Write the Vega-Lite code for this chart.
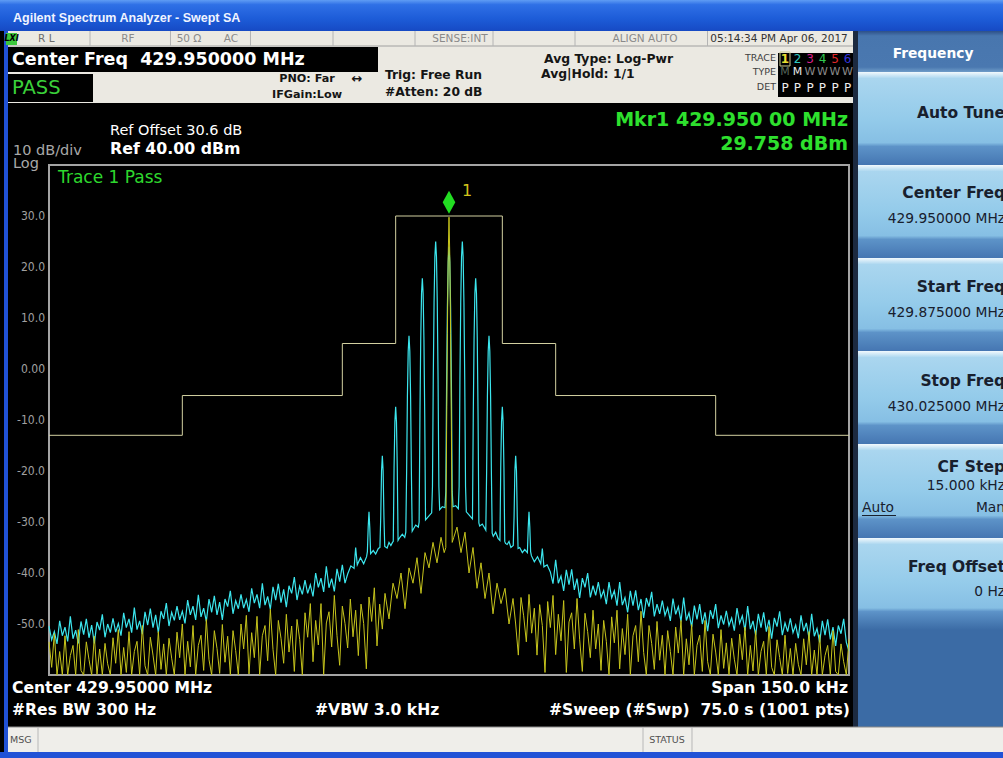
{
  "$schema": "https://vega.github.io/schema/vega-lite/v6.json",
  "width": 800,
  "height": 510,
  "autosize": {"type": "none"},
  "padding": {"left": 49, "top": 165, "right": 154, "bottom": 83},
  "background": "#000000",
  "config": {
    "view": {"stroke": "#a4a4a4", "strokeWidth": 2},
    "text": {"font": "DejaVu Sans", "baseline": "middle", "align": "left"}
  },
  "data": {"values": [{}]},
  "datasets": {
    "cyan": [
      {"f":-75,"d":-50.4},{"f":-74.5,"d":-53.1},{"f":-74,"d":-51.5},{"f":-73.5,"d":-53.9},{"f":-73,"d":-49.4},{"f":-72.5,"d":-52.3},{"f":-72,"d":-50.6},{"f":-71.5,"d":-53.4},{"f":-71,"d":-48.5},{"f":-70.5,"d":-52.9},{"f":-70,"d":-51.2},{"f":-69.5,"d":-53.8},{"f":-69,"d":-49.5},{"f":-68.5,"d":-52.1},{"f":-68,"d":-49.0},{"f":-67.5,"d":-52.7},{"f":-67,"d":-50.2},{"f":-66.5,"d":-53.8},{"f":-66,"d":-49.6},{"f":-65.5,"d":-51.2},{"f":-65,"d":-48.1},{"f":-64.5,"d":-52.6},{"f":-64,"d":-50.0},{"f":-63.5,"d":-51.7},{"f":-63,"d":-48.9},{"f":-62.5,"d":-51.6},{"f":-62,"d":-49.9},{"f":-61.5,"d":-52.3},{"f":-61,"d":-47.8},{"f":-60.5,"d":-50.7},{"f":-60,"d":-49.0},{"f":-59.5,"d":-51.7},{"f":-59,"d":-46.8},{"f":-58.5,"d":-51.1},{"f":-58,"d":-49.4},{"f":-57.5,"d":-52.0},{"f":-57,"d":-47.6},{"f":-56.5,"d":-50.2},{"f":-56,"d":-47.0},{"f":-55.5,"d":-50.7},{"f":-55,"d":-48.2},{"f":-54.5,"d":-51.7},{"f":-54,"d":-47.5},{"f":-53.5,"d":-49.0},{"f":-53,"d":-45.9},{"f":-52.5,"d":-50.4},{"f":-52,"d":-47.7},{"f":-51.5,"d":-49.3},{"f":-51,"d":-46.5},{"f":-50.5,"d":-49.2},{"f":-50,"d":-47.5},{"f":-49.5,"d":-49.9},{"f":-49,"d":-45.3},{"f":-48.5,"d":-48.2},{"f":-48,"d":-46.5},{"f":-47.5,"d":-49.2},{"f":-47,"d":-44.3},{"f":-46.5,"d":-48.6},{"f":-46,"d":-46.9},{"f":-45.5,"d":-49.5},{"f":-45,"d":-45.1},{"f":-44.5,"d":-47.7},{"f":-44,"d":-44.5},{"f":-43.5,"d":-48.2},{"f":-43,"d":-45.7},{"f":-42.5,"d":-49.2},{"f":-42,"d":-45.1},{"f":-41.5,"d":-46.6},{"f":-41,"d":-43.5},{"f":-40.5,"d":-48.0},{"f":-40,"d":-45.4},{"f":-39.5,"d":-47.0},{"f":-39,"d":-44.2},{"f":-38.5,"d":-46.9},{"f":-38,"d":-45.2},{"f":-37.5,"d":-47.6},{"f":-37,"d":-43.0},{"f":-36.5,"d":-45.9},{"f":-36,"d":-44.2},{"f":-35.5,"d":-46.9},{"f":-35,"d":-42.0},{"f":-34.5,"d":-46.3},{"f":-34,"d":-44.6},{"f":-33.5,"d":-47.1},{"f":-33,"d":-42.7},{"f":-32.5,"d":-45.3},{"f":-32,"d":-42.1},{"f":-31.5,"d":-45.8},{"f":-31,"d":-43.2},{"f":-30.5,"d":-46.7},{"f":-30,"d":-42.5},{"f":-29.5,"d":-44.0},{"f":-29,"d":-40.8},{"f":-28.5,"d":-45.3},{"f":-28,"d":-42.6},{"f":-27.5,"d":-44.2},{"f":-27,"d":-41.4},{"f":-26.5,"d":-44.0},{"f":-26,"d":-42.3},{"f":-25.5,"d":-44.6},{"f":-25,"d":-40.0},{"f":-24.5,"d":-42.8},{"f":-24,"d":-41.0},{"f":-23.5,"d":-43.7},{"f":-23,"d":-38.7},{"f":-22.5,"d":-42.9},{"f":-22,"d":-41.1},{"f":-21.5,"d":-43.6},{"f":-21,"d":-39.2},{"f":-20.5,"d":-41.7},{"f":-20,"d":-38.4},{"f":-19.5,"d":-42.0},
      {"f":-19.0,"d":-40.2},{"f":-18.4,"d":-38.6},{"f":-17.8,"d":-39.1},{"f":-17.5,"d":-35.0},{"f":-17.2,"d":-38.4},{"f":-16.6,"d":-37.0},{"f":-16.0,"d":-38.2},{"f":-15.45,"d":-36.8},{"f":-15.3,"d":-35.8},{"f":-15.15,"d":-31.0},{"f":-15.0,"d":-28.0},{"f":-14.85,"d":-31.2},{"f":-14.7,"d":-36.2},{"f":-14.2,"d":-35.6},{"f":-13.75,"d":-36.3},{"f":-13.25,"d":-35.2},{"f":-12.95,"d":-35.0},{"f":-12.8,"d":-29.0},{"f":-12.65,"d":-20.0},{"f":-12.5,"d":-17.0},{"f":-12.35,"d":-20.0},{"f":-12.2,"d":-29.0},{"f":-12.05,"d":-34.8},{"f":-11.6,"d":-35.1},{"f":-11.25,"d":-34.0},{"f":-10.9,"d":-34.6},{"f":-10.6,"d":-34.0},{"f":-10.45,"d":-33.8},{"f":-10.3,"d":-19.4},{"f":-10.15,"d":-10.4},{"f":-10.0,"d":-7.4},{"f":-9.85,"d":-10.4},{"f":-9.7,"d":-19.4},{"f":-9.55,"d":-33.6},{"f":-9.2,"d":-33.0},{"f":-8.75,"d":-32.4},{"f":-8.3,"d":-33.0},{"f":-8.1,"d":-32.0},{"f":-7.95,"d":-20.5},{"f":-7.8,"d":-5.5},{"f":-7.65,"d":3.5},{"f":-7.5,"d":6.5},{"f":-7.35,"d":3.5},{"f":-7.2,"d":-5.5},{"f":-7.05,"d":-20.5},{"f":-6.9,"d":-31.8},{"f":-6.25,"d":-30.6},{"f":-5.75,"d":-31.0},{"f":-5.6,"d":-30.0},{"f":-5.45,"d":-9.2},{"f":-5.3,"d":5.8},{"f":-5.15,"d":14.8},{"f":-5.0,"d":17.8},{"f":-4.85,"d":14.8},{"f":-4.7,"d":5.8},{"f":-4.55,"d":-9.2},{"f":-4.4,"d":-29.6},{"f":-3.75,"d":-28.8},{"f":-3.25,"d":-28.2},{"f":-3.1,"d":-23.0},{"f":-2.95,"d":-2.0},{"f":-2.8,"d":13.0},{"f":-2.65,"d":22.0},{"f":-2.5,"d":25.0},{"f":-2.35,"d":22.0},{"f":-2.2,"d":13.0},{"f":-2.05,"d":-2.0},{"f":-1.9,"d":-23.0},{"f":-1.75,"d":-27.6},{"f":-1.25,"d":-27.0},{"f":-0.75,"d":-27.2},{"f":-0.6,"d":-24.0},{"f":-0.45,"d":-3.0},{"f":-0.3,"d":12.0},{"f":-0.15,"d":21.0},{"f":0,"d":24.0},
      {"f":0.15,"d":21.0},{"f":0.3,"d":12.0},{"f":0.45,"d":-3.0},{"f":0.6,"d":-24.0},{"f":0.75,"d":-27.0},{"f":1.25,"d":-26.8},{"f":1.75,"d":-27.4},{"f":1.9,"d":-23.0},{"f":2.05,"d":-2.0},{"f":2.2,"d":13.0},{"f":2.35,"d":22.0},{"f":2.5,"d":25.0},{"f":2.65,"d":22.0},{"f":2.8,"d":13.0},{"f":2.95,"d":-2.0},{"f":3.1,"d":-23.0},{"f":3.25,"d":-28.0},{"f":3.75,"d":-28.6},{"f":4.4,"d":-29.4},{"f":4.55,"d":-9.2},{"f":4.7,"d":5.8},{"f":4.85,"d":14.8},{"f":5.0,"d":17.8},{"f":5.15,"d":14.8},{"f":5.3,"d":5.8},{"f":5.45,"d":-9.2},{"f":5.6,"d":-30.2},{"f":5.75,"d":-30.8},{"f":6.25,"d":-30.4},{"f":6.9,"d":-31.6},{"f":7.05,"d":-20.5},{"f":7.2,"d":-5.5},{"f":7.35,"d":3.5},{"f":7.5,"d":6.5},{"f":7.65,"d":3.5},{"f":7.8,"d":-5.5},{"f":7.95,"d":-20.5},{"f":8.1,"d":-32.2},{"f":8.3,"d":-32.8},{"f":8.75,"d":-32.0},{"f":9.2,"d":-33.2},{"f":9.55,"d":-33.6},{"f":9.7,"d":-19.4},{"f":9.85,"d":-10.4},{"f":10.0,"d":-7.4},{"f":10.15,"d":-10.4},{"f":10.3,"d":-19.4},{"f":10.45,"d":-33.8},{"f":10.6,"d":-34.2},{"f":10.9,"d":-34.4},{"f":11.25,"d":-33.8},{"f":11.6,"d":-35.0},{"f":12.05,"d":-34.6},{"f":12.2,"d":-29.0},{"f":12.35,"d":-20.0},{"f":12.5,"d":-17.0},{"f":12.65,"d":-20.0},{"f":12.8,"d":-29.0},{"f":12.95,"d":-35.2},{"f":13.25,"d":-35.0},{"f":13.75,"d":-36.0},{"f":14.2,"d":-35.4},{"f":14.7,"d":-36.0},{"f":14.85,"d":-31.2},{"f":15.0,"d":-28.0},{"f":15.15,"d":-31.0},{"f":15.3,"d":-35.8},{"f":15.45,"d":-36.6},{"f":16.0,"d":-37.8},{"f":16.6,"d":-36.8},{"f":17.2,"d":-38.2},{"f":17.5,"d":-35.2},{"f":17.8,"d":-38.8},{"f":18.4,"d":-38.4},{"f":19.0,"d":-39.8},
      {"f":19.5,"d":-42.1},{"f":20,"d":-37.4},{"f":20.5,"d":-42.0},{"f":21,"d":-40.6},{"f":21.5,"d":-43.5},{"f":22,"d":-39.4},{"f":22.5,"d":-42.3},{"f":23,"d":-39.3},{"f":23.5,"d":-43.3},{"f":24,"d":-41.1},{"f":24.5,"d":-44.9},{"f":25,"d":-41.0},{"f":25.5,"d":-42.8},{"f":26,"d":-40.0},{"f":26.5,"d":-44.8},{"f":27,"d":-42.5},{"f":27.5,"d":-44.4},{"f":28,"d":-41.8},{"f":28.5,"d":-44.8},{"f":29,"d":-43.4},{"f":29.5,"d":-46.1},{"f":30,"d":-41.8},{"f":30.5,"d":-44.9},{"f":31,"d":-43.5},{"f":31.5,"d":-46.4},{"f":32,"d":-41.8},{"f":32.5,"d":-46.3},{"f":33,"d":-44.8},{"f":33.5,"d":-47.7},{"f":34,"d":-43.5},{"f":34.5,"d":-46.4},{"f":35,"d":-43.4},{"f":35.5,"d":-47.3},{"f":36,"d":-45.1},{"f":36.5,"d":-48.8},{"f":37,"d":-44.9},{"f":37.5,"d":-46.6},{"f":38,"d":-43.7},{"f":38.5,"d":-48.5},{"f":39,"d":-46.1},{"f":39.5,"d":-48.0},{"f":40,"d":-45.4},{"f":40.5,"d":-48.3},{"f":41,"d":-46.8},{"f":41.5,"d":-49.4},{"f":42,"d":-45.0},{"f":42.5,"d":-48.1},{"f":43,"d":-46.6},{"f":43.5,"d":-49.5},{"f":44,"d":-44.8},{"f":44.5,"d":-49.3},{"f":45,"d":-47.8},{"f":45.5,"d":-50.6},{"f":46,"d":-46.4},{"f":46.5,"d":-49.1},{"f":47,"d":-46.1},{"f":47.5,"d":-50.0},{"f":48,"d":-47.7},{"f":48.5,"d":-51.4},{"f":49,"d":-47.3},{"f":49.5,"d":-49.0},{"f":50,"d":-46.1},{"f":50.5,"d":-50.8},{"f":51,"d":-48.3},{"f":51.5,"d":-50.1},{"f":52,"d":-47.4},{"f":52.5,"d":-50.3},{"f":53,"d":-48.8},{"f":53.5,"d":-51.3},{"f":54,"d":-46.9},{"f":54.5,"d":-49.9},{"f":55,"d":-48.4},{"f":55.5,"d":-51.3},{"f":56,"d":-46.5},{"f":56.5,"d":-51.0},{"f":57,"d":-49.4},{"f":57.5,"d":-52.2},{"f":58,"d":-48.0},{"f":58.5,"d":-50.7},{"f":59,"d":-47.7},{"f":59.5,"d":-51.5},{"f":60,"d":-49.2},{"f":60.5,"d":-52.9},{"f":61,"d":-48.8},{"f":61.5,"d":-50.5},{"f":62,"d":-47.5},{"f":62.5,"d":-52.2},{"f":63,"d":-49.8},{"f":63.5,"d":-51.5},{"f":64,"d":-48.9},{"f":64.5,"d":-51.7},{"f":65,"d":-50.2},{"f":65.5,"d":-52.8},{"f":66,"d":-48.3},{"f":66.5,"d":-51.4},{"f":67,"d":-49.8},{"f":67.5,"d":-52.7},{"f":68,"d":-48.0},{"f":68.5,"d":-52.4},{"f":69,"d":-50.9},{"f":69.5,"d":-53.6},{"f":70,"d":-49.4},{"f":70.5,"d":-52.2},{"f":71,"d":-49.1},{"f":71.5,"d":-53.0},{"f":72,"d":-50.6},{"f":72.5,"d":-54.3},{"f":73,"d":-50.3},{"f":73.5,"d":-51.9},{"f":74,"d":-49.0},{"f":74.5,"d":-53.6},{"f":75,"d":-55.3}
    ],
    "yellow": [
      {"f":-75,"d":-53.5},{"f":-74.5,"d":-58.5},{"f":-74,"d":-51.9},{"f":-73.5,"d":-60},{"f":-73,"d":-55.4},{"f":-72.5,"d":-60},{"f":-72,"d":-52.3},{"f":-71.5,"d":-60},{"f":-71,"d":-56.2},{"f":-70.5,"d":-54.2},{"f":-70,"d":-60},{"f":-69.5,"d":-51.1},{"f":-69,"d":-59.1},{"f":-68.5,"d":-60},{"f":-68,"d":-53.5},{"f":-67.5,"d":-57.0},{"f":-67,"d":-60},{"f":-66.5,"d":-52.4},{"f":-66,"d":-59.9},{"f":-65.5,"d":-54.9},{"f":-65,"d":-60},{"f":-64.5,"d":-53.8},{"f":-64,"d":-57.8},{"f":-63.5,"d":-60},{"f":-63,"d":-52.7},{"f":-62.5,"d":-57.7},{"f":-62,"d":-51.1},{"f":-61.5,"d":-60},{"f":-61,"d":-54.6},{"f":-60.5,"d":-59.5},{"f":-60,"d":-51.5},{"f":-59.5,"d":-60},{"f":-59,"d":-55.4},{"f":-58.5,"d":-53.4},{"f":-58,"d":-60},{"f":-57.5,"d":-50.3},{"f":-57,"d":-58.2},{"f":-56.5,"d":-60},{"f":-56,"d":-52.6},{"f":-55.5,"d":-56.1},{"f":-55,"d":-60},{"f":-54.5,"d":-51.5},{"f":-54,"d":-58.9},{"f":-53.5,"d":-53.9},{"f":-53,"d":-60},{"f":-52.5,"d":-52.8},{"f":-52,"d":-56.7},{"f":-51.5,"d":-60},{"f":-51,"d":-51.6},{"f":-50.5,"d":-56.6},{"f":-50,"d":-50.0},{"f":-49.5,"d":-60},{"f":-49,"d":-53.4},{"f":-48.5,"d":-58.4},{"f":-48,"d":-50.3},{"f":-47.5,"d":-60},{"f":-47,"d":-54.2},{"f":-46.5,"d":-52.2},{"f":-46,"d":-59.1},{"f":-45.5,"d":-49.1},{"f":-45,"d":-57.0},{"f":-44.5,"d":-60},{"f":-44,"d":-51.3},{"f":-43.5,"d":-54.8},{"f":-43,"d":-59.7},{"f":-42.5,"d":-50.1},{"f":-42,"d":-57.5},{"f":-41.5,"d":-52.4},{"f":-41,"d":-60},{"f":-40.5,"d":-51.3},{"f":-40,"d":-55.2},{"f":-39.5,"d":-60},{"f":-39,"d":-50.0},{"f":-38.5,"d":-54.9},{"f":-38,"d":-48.3},{"f":-37.5,"d":-59.8},{"f":-37,"d":-51.7},{"f":-36.5,"d":-56.6},{"f":-36,"d":-48.5},{"f":-35.5,"d":-60},{"f":-35,"d":-52.3},{"f":-34.5,"d":-50.3},{"f":-34,"d":-57.2},{"f":-33.5,"d":-47.1},{"f":-33,"d":-55.0},{"f":-32.5,"d":-60},{"f":-32,"d":-49.3},{"f":-31.5,"d":-52.8},{"f":-31,"d":-57.7},{"f":-30.5,"d":-48.1},{"f":-30,"d":-55.5},{"f":-29.5,"d":-50.4},{"f":-29,"d":-59.3},{"f":-28.5,"d":-49.1},{"f":-28,"d":-53.0},{"f":-27.5,"d":-60},{"f":-27,"d":-47.8},{"f":-26.5,"d":-52.6},{"f":-26,"d":-46.0},{"f":-25.5,"d":-57.4},{"f":-25,"d":-49.3},{"f":-24.5,"d":-54.1},{"f":-24,"d":-46.0},{"f":-23.5,"d":-59.9},{"f":-23,"d":-49.8},{"f":-22.5,"d":-47.6},{"f":-22,"d":-54.5},{"f":-21.5,"d":-44.4},{"f":-21,"d":-52.3},{"f":-20.5,"d":-58.1},{"f":-20,"d":-46.5},{"f":-19.5,"d":-49.9},{"f":-19,"d":-54.7},{"f":-18.5,"d":-45.1},{"f":-18,"d":-52.5},{"f":-17.5,"d":-47.3},{"f":-17,"d":-56.2},{"f":-16.5,"d":-46.1},{"f":-16,"d":-49.9},{"f":-15.5,"d":-58.8},{"f":-15,"d":-44.7},{"f":-14.5,"d":-49.5},{"f":-14,"d":-42.9},{"f":-13.5,"d":-54.3},{"f":-13,"d":-46.1},{"f":-12.5,"d":-51.0},
      {"f":-12,"d":-44},{"f":-11.25,"d":-49},{"f":-10.5,"d":-42},{"f":-9.75,"d":-45},{"f":-9,"d":-40},{"f":-8.25,"d":-47},{"f":-7.5,"d":-39},{"f":-6.75,"d":-42},{"f":-6,"d":-37},{"f":-5.25,"d":-44},{"f":-4.5,"d":-36},{"f":-3.75,"d":-39},{"f":-3,"d":-34},{"f":-2.25,"d":-38},{"f":-1.5,"d":-33},{"f":-0.9,"d":-36},{"f":-0.6,"d":-35},{"f":-0.45,"d":-12},{"f":-0.3,"d":7},{"f":-0.15,"d":22},{"f":0,"d":29.76},{"f":0.15,"d":22},{"f":0.3,"d":7},{"f":0.45,"d":-12},{"f":0.6,"d":-34},{"f":0.9,"d":-33},{"f":1.5,"d":-31},{"f":2.25,"d":-36},{"f":3,"d":-32},{"f":3.75,"d":-40},{"f":4.5,"d":-35},{"f":5.25,"d":-43},{"f":6,"d":-38},{"f":6.75,"d":-45},{"f":7.5,"d":-40},{"f":8.25,"d":-48},{"f":9,"d":-42},{"f":9.75,"d":-46},{"f":10.5,"d":-43},{"f":11.25,"d":-50},{"f":12,"d":-45},
      {"f":12.5,"d":-50.0},{"f":13,"d":-56.1},{"f":13.5,"d":-44.8},{"f":14,"d":-48.4},{"f":14.5,"d":-53.5},{"f":15,"d":-44.2},{"f":15.5,"d":-51.8},{"f":16,"d":-46.9},{"f":16.5,"d":-56.1},{"f":17,"d":-46.2},{"f":17.5,"d":-50.3},{"f":18,"d":-59.5},{"f":18.5,"d":-45.6},{"f":19,"d":-50.7},{"f":19.5,"d":-44.4},{"f":20,"d":-56.0},{"f":20.5,"d":-48.1},{"f":21,"d":-53.3},{"f":21.5,"d":-45.4},{"f":22,"d":-59.5},{"f":22.5,"d":-49.6},{"f":23,"d":-47.8},{"f":23.5,"d":-54.9},{"f":24,"d":-45.0},{"f":24.5,"d":-53.1},{"f":25,"d":-59.3},{"f":25.5,"d":-47.9},{"f":26,"d":-51.5},{"f":26.5,"d":-56.6},{"f":27,"d":-47.3},{"f":27.5,"d":-54.9},{"f":28,"d":-50.0},{"f":28.5,"d":-59.1},{"f":29,"d":-49.3},{"f":29.5,"d":-53.4},{"f":30,"d":-60},{"f":30.5,"d":-48.6},{"f":31,"d":-53.7},{"f":31.5,"d":-47.3},{"f":32,"d":-58.8},{"f":32.5,"d":-50.9},{"f":33,"d":-56.0},{"f":33.5,"d":-48.1},{"f":34,"d":-60},{"f":34.5,"d":-52.3},{"f":35,"d":-50.3},{"f":35.5,"d":-57.4},{"f":36,"d":-47.5},{"f":36.5,"d":-55.6},{"f":37,"d":-60},{"f":37.5,"d":-50.3},{"f":38,"d":-53.8},{"f":38.5,"d":-58.9},{"f":39,"d":-49.5},{"f":39.5,"d":-57.1},{"f":40,"d":-52.2},{"f":40.5,"d":-60},{"f":41,"d":-51.3},{"f":41.5,"d":-55.4},{"f":42,"d":-60},{"f":42.5,"d":-50.6},{"f":43,"d":-55.7},{"f":43.5,"d":-49.3},{"f":44,"d":-60},{"f":44.5,"d":-52.9},{"f":45,"d":-58.0},{"f":45.5,"d":-50.1},{"f":46,"d":-60},{"f":46.5,"d":-54.2},{"f":47,"d":-52.2},{"f":47.5,"d":-59.3},{"f":48,"d":-49.3},{"f":48.5,"d":-57.4},{"f":49,"d":-60},{"f":49.5,"d":-52.0},{"f":50,"d":-55.5},{"f":50.5,"d":-60},{"f":51,"d":-51.1},{"f":51.5,"d":-58.7},{"f":52,"d":-53.7},{"f":52.5,"d":-60},{"f":53,"d":-52.8},{"f":53.5,"d":-56.9},{"f":54,"d":-60},{"f":54.5,"d":-52.0},{"f":55,"d":-57.0},{"f":55.5,"d":-50.6},{"f":56,"d":-60},{"f":56.5,"d":-54.2},{"f":57,"d":-59.2},{"f":57.5,"d":-51.3},{"f":58,"d":-60},{"f":58.5,"d":-55.4},{"f":59,"d":-53.4},{"f":59.5,"d":-60},{"f":60,"d":-50.5},{"f":60.5,"d":-58.5},{"f":61,"d":-60},{"f":61.5,"d":-53.1},{"f":62,"d":-56.6},{"f":62.5,"d":-60},{"f":63,"d":-52.2},{"f":63.5,"d":-59.7},{"f":64,"d":-54.8},{"f":64.5,"d":-60},{"f":65,"d":-53.8},{"f":65.5,"d":-57.9},{"f":66,"d":-60},{"f":66.5,"d":-52.9},{"f":67,"d":-58.0},{"f":67.5,"d":-51.5},{"f":68,"d":-60},{"f":68.5,"d":-55.1},{"f":69,"d":-60},{"f":69.5,"d":-52.1},{"f":70,"d":-60},{"f":70.5,"d":-56.2},{"f":71,"d":-54.2},{"f":71.5,"d":-60},{"f":72,"d":-51.3},{"f":72.5,"d":-59.3},{"f":73,"d":-60},{"f":73.5,"d":-53.9},{"f":74,"d":-57.4},{"f":74.5,"d":-60},{"f":75,"d":-53.0}
    ],
    "limit": [
      {"f":-75,"d":-13},{"f":-50,"d":-5.2},{"f":-20,"d":5},{"f":-10,"d":30},{"f":10,"d":5},{"f":20,"d":-5.2},{"f":50,"d":-13},{"f":75,"d":-13}
    ],
    "ylabels": [
      {"v":30,"t":"30.0"},{"v":20,"t":"20.0"},{"v":10,"t":"10.0"},{"v":0,"t":"0.00"},{"v":-10,"t":"-10.0"},{"v":-20,"t":"-20.0"},{"v":-30,"t":"-30.0"},{"v":-40,"t":"-40.0"},{"v":-50,"t":"-50.0"}
    ]
  },
  "layer": [
    {
      "data": {"name": "cyan"},
      "mark": {"type": "line", "color": "#3ce6ee", "strokeWidth": 1.2},
      "encoding": {
        "x": {"field": "f", "type": "quantitative", "scale": {"domain": [-75, 75], "nice": false, "zero": false},
          "axis": {"values": [-60, -45, -30, -15, 0, 15, 30, 45, 60], "labels": false, "ticks": false, "domain": false, "grid": true, "gridColor": "#c4c4c4", "gridWidth": 1, "title": null}},
        "y": {"field": "d", "type": "quantitative", "scale": {"domain": [-60, 40], "nice": false, "zero": false},
          "axis": {"values": [30, 20, 10, 0, -10, -20, -30, -40, -50], "labels": false, "grid": true, "gridColor": "#c4c4c4", "gridWidth": 1, "domain": false, "ticks": false, "title": null}}
      }
    },
    {
      "data": {"name": "yellow"},
      "mark": {"type": "line", "color": "#c6c41c", "strokeWidth": 1},
      "encoding": {"x": {"field": "f", "type": "quantitative", "axis": null}, "y": {"field": "d", "type": "quantitative", "axis": null}}
    },
    {
      "data": {"name": "limit"},
      "mark": {"type": "line", "color": "#d2d0a0", "strokeWidth": 1, "interpolate": "step-after"},
      "encoding": {"x": {"field": "f", "type": "quantitative", "axis": null}, "y": {"field": "d", "type": "quantitative", "axis": null}}
    },
    {
      "data": {"name": "ylabels"},
      "mark": {"type": "text", "align": "right", "dx": -4, "font": "DejaVu Sans Condensed", "fontSize": 12, "color": "#a0a0a0"},
      "encoding": {"x": {"datum": -75, "axis": null}, "y": {"field": "v", "type": "quantitative", "axis": null}, "text": {"field": "t"}}
    },
    {"mark": {"type": "point", "shape": "M0,-1L0.55,0L0,1L-0.55,0Z", "filled": true, "color": "#22dd22", "opacity": 1, "size": 529, "yOffset": -15},
      "encoding": {"x": {"datum": 0, "axis": null}, "y": {"datum": 29.758, "axis": null}}},
    {"mark": {"type": "text", "text": "1", "color": "#d4c41c", "fontSize": 16},
      "encoding": {"x": {"datum": 2.44, "axis": null}, "y": {"datum": 34.902, "axis": null}}},

    {"mark": {"type": "rect", "fill": "#2152d6"}, "encoding": {"x": {"datum": -83.4375, "axis": null}, "x2": {"datum": -82.6875}, "y": {"datum": 72.353, "axis": null}, "y2": {"datum": -76.275}}},
    {"mark": {"type": "rect", "fill": {"gradient": "linear", "x1": 0, "y1": 0, "x2": 0, "y2": 1, "stops": [{"offset": 0, "color": "#5f9cf4"}, {"offset": 0.15, "color": "#2f70e6"}, {"offset": 0.6, "color": "#1d5cd8"}, {"offset": 1, "color": "#164ac4"}]}},
      "encoding": {"x": {"datum": -84.19, "axis": null}, "x2": {"datum": 104}, "y": {"datum": 72.353, "axis": null}, "y2": {"datum": 66.275}}},
    {"mark": {"type": "rect", "fill": "#ebe9e2"}, "encoding": {"x": {"datum": -82.6875, "axis": null}, "x2": {"datum": 76.125}, "y": {"datum": 66.275, "axis": null}, "y2": {"datum": 52.157}}},
    {"mark": {"type": "rule", "color": "#a0a0a0"}, "encoding": {"x": {"datum": -82.6875, "axis": null}, "x2": {"datum": 76.125}, "y": {"datum": 63.333, "axis": null}}},
    {"mark": {"type": "rule", "color": "#b4b4b4"}, "encoding": {"x": {"datum": -67.31, "axis": null}, "y": {"datum": 66.275, "axis": null}, "y2": {"datum": 63.333}}},
    {"mark": {"type": "rule", "color": "#b4b4b4"}, "encoding": {"x": {"datum": -52.22, "axis": null}, "y": {"datum": 66.275, "axis": null}, "y2": {"datum": 63.333}}},
    {"mark": {"type": "rule", "color": "#b4b4b4"}, "encoding": {"x": {"datum": -37.22, "axis": null}, "y": {"datum": 66.275, "axis": null}, "y2": {"datum": 63.333}}},
    {"mark": {"type": "rule", "color": "#b4b4b4"}, "encoding": {"x": {"datum": -21.75, "axis": null}, "y": {"datum": 66.275, "axis": null}, "y2": {"datum": 63.333}}},
    {"mark": {"type": "rule", "color": "#b4b4b4"}, "encoding": {"x": {"datum": -6.375, "axis": null}, "y": {"datum": 66.275, "axis": null}, "y2": {"datum": 63.333}}},
    {"mark": {"type": "rule", "color": "#b4b4b4"}, "encoding": {"x": {"datum": 8.25, "axis": null}, "y": {"datum": 66.275, "axis": null}, "y2": {"datum": 63.333}}},
    {"mark": {"type": "rule", "color": "#b4b4b4"}, "encoding": {"x": {"datum": 23.625, "axis": null}, "y": {"datum": 66.275, "axis": null}, "y2": {"datum": 63.333}}},
    {"mark": {"type": "rule", "color": "#b4b4b4"}, "encoding": {"x": {"datum": 48.47, "axis": null}, "y": {"datum": 66.275, "axis": null}, "y2": {"datum": 63.333}}},
    {"mark": {"type": "rect", "fill": "#000000"}, "encoding": {"x": {"datum": -82.6875, "axis": null}, "x2": {"datum": -13.3125}, "y": {"datum": 63.137, "axis": null}, "y2": {"datum": 58.235}}},
    {"mark": {"type": "rect", "fill": "#000000"}, "encoding": {"x": {"datum": -82.6875, "axis": null}, "x2": {"datum": -66.75}, "y": {"datum": 57.843, "axis": null}, "y2": {"datum": 52.353}}},
    {"mark": {"type": "rect", "fill": "#000000"}, "encoding": {"x": {"datum": 61.6875, "axis": null}, "x2": {"datum": 75.75}, "y": {"datum": 61.961, "axis": null}, "y2": {"datum": 53.333}}},
    {"mark": {"type": "rect", "fill": "#3cc83c"}, "encoding": {"x": {"datum": -83.06, "axis": null}, "x2": {"datum": -81}, "y": {"datum": 65.882, "axis": null}, "y2": {"datum": 63.529}}},
    {"mark": {"type": "rect", "fill": null, "stroke": "#c8c890", "strokeWidth": 1}, "encoding": {"x": {"datum": 62.06, "axis": null}, "x2": {"datum": 63.94}, "y": {"datum": 62.157, "axis": null}, "y2": {"datum": 59.412}}},

    {"mark": {"type": "rect", "fill": "#3b6ba5"}, "encoding": {"x": {"datum": 76.125, "axis": null}, "x2": {"datum": 104}, "y": {"datum": 66.275, "axis": null}, "y2": {"datum": -70.196}}},
    {"mark": {"type": "rect", "fill": "#1c2a40"}, "encoding": {"x": {"datum": 75.75, "axis": null}, "x2": {"datum": 76.69}, "y": {"datum": 66.275, "axis": null}, "y2": {"datum": -70.196}}},
    {"mark": {"type": "rect", "fill": {"gradient": "linear", "x1": 0, "y1": 0, "x2": 0, "y2": 1, "stops": [{"offset": 0, "color": "#2d5088"}, {"offset": 0.12, "color": "#4876ae"}, {"offset": 0.88, "color": "#4a78b0"}, {"offset": 1, "color": "#6f9cc8"}]}},
      "encoding": {"x": {"datum": 76.69, "axis": null}, "x2": {"datum": 104}, "y": {"datum": 66.275, "axis": null}, "y2": {"datum": 58.235}}},
    {"mark": {"type": "rect", "fill": {"gradient": "linear", "x1": 0, "y1": 0, "x2": 0, "y2": 1, "stops": [{"offset": 0, "color": "#f2f9fd"}, {"offset": 0.07, "color": "#aad6ef"}, {"offset": 0.5, "color": "#94cbea"}, {"offset": 0.76, "color": "#86bfe4"}, {"offset": 0.8, "color": "#5d93c8"}, {"offset": 1, "color": "#4576b2"}]}},
      "encoding": {"x": {"datum": 76.69, "axis": null}, "x2": {"datum": 104}, "y": {"datum": 58.235, "axis": null}, "y2": {"datum": 40}}},
    {"mark": {"type": "rect", "fill": {"gradient": "linear", "x1": 0, "y1": 0, "x2": 0, "y2": 1, "stops": [{"offset": 0, "color": "#f2f9fd"}, {"offset": 0.07, "color": "#aad6ef"}, {"offset": 0.5, "color": "#94cbea"}, {"offset": 0.76, "color": "#86bfe4"}, {"offset": 0.8, "color": "#5d93c8"}, {"offset": 1, "color": "#4576b2"}]}},
      "encoding": {"x": {"datum": 76.69, "axis": null}, "x2": {"datum": 104}, "y": {"datum": 40, "axis": null}, "y2": {"datum": 21.765}}},
    {"mark": {"type": "rect", "fill": {"gradient": "linear", "x1": 0, "y1": 0, "x2": 0, "y2": 1, "stops": [{"offset": 0, "color": "#f2f9fd"}, {"offset": 0.07, "color": "#aad6ef"}, {"offset": 0.5, "color": "#94cbea"}, {"offset": 0.76, "color": "#86bfe4"}, {"offset": 0.8, "color": "#5d93c8"}, {"offset": 1, "color": "#4576b2"}]}},
      "encoding": {"x": {"datum": 76.69, "axis": null}, "x2": {"datum": 104}, "y": {"datum": 21.765, "axis": null}, "y2": {"datum": 3.529}}},
    {"mark": {"type": "rect", "fill": {"gradient": "linear", "x1": 0, "y1": 0, "x2": 0, "y2": 1, "stops": [{"offset": 0, "color": "#f2f9fd"}, {"offset": 0.07, "color": "#aad6ef"}, {"offset": 0.5, "color": "#94cbea"}, {"offset": 0.76, "color": "#86bfe4"}, {"offset": 0.8, "color": "#5d93c8"}, {"offset": 1, "color": "#4576b2"}]}},
      "encoding": {"x": {"datum": 76.69, "axis": null}, "x2": {"datum": 104}, "y": {"datum": 3.529, "axis": null}, "y2": {"datum": -14.706}}},
    {"mark": {"type": "rect", "fill": {"gradient": "linear", "x1": 0, "y1": 0, "x2": 0, "y2": 1, "stops": [{"offset": 0, "color": "#f2f9fd"}, {"offset": 0.07, "color": "#aad6ef"}, {"offset": 0.5, "color": "#94cbea"}, {"offset": 0.76, "color": "#86bfe4"}, {"offset": 0.8, "color": "#5d93c8"}, {"offset": 1, "color": "#4576b2"}]}},
      "encoding": {"x": {"datum": 76.69, "axis": null}, "x2": {"datum": 104}, "y": {"datum": -14.706, "axis": null}, "y2": {"datum": -33.137}}},
    {"mark": {"type": "rect", "fill": {"gradient": "linear", "x1": 0, "y1": 0, "x2": 0, "y2": 1, "stops": [{"offset": 0, "color": "#f2f9fd"}, {"offset": 0.07, "color": "#aad6ef"}, {"offset": 0.5, "color": "#94cbea"}, {"offset": 0.76, "color": "#86bfe4"}, {"offset": 0.8, "color": "#5d93c8"}, {"offset": 1, "color": "#3b6ba5"}]}},
      "encoding": {"x": {"datum": 76.69, "axis": null}, "x2": {"datum": 104}, "y": {"datum": -33.137, "axis": null}, "y2": {"datum": -51.176}}},

    {"mark": {"type": "rect", "fill": "#efeeea"}, "encoding": {"x": {"datum": -82.6875, "axis": null}, "x2": {"datum": 104}, "y": {"datum": -70.196, "axis": null}, "y2": {"datum": -75.098}}},
    {"mark": {"type": "rule", "color": "#8a8a8a"}, "encoding": {"x": {"datum": -82.6875, "axis": null}, "x2": {"datum": 104}, "y": {"datum": -70.196, "axis": null}}},
    {"mark": {"type": "rule", "color": "#b8b8b8"}, "encoding": {"x": {"datum": -77.06, "axis": null}, "y": {"datum": -70.196, "axis": null}, "y2": {"datum": -75.098}}},
    {"mark": {"type": "rule", "color": "#b8b8b8"}, "encoding": {"x": {"datum": 36.375, "axis": null}, "y": {"datum": -70.196, "axis": null}, "y2": {"datum": -75.098}}},
    {"mark": {"type": "rule", "color": "#b8b8b8"}, "encoding": {"x": {"datum": 45.56, "axis": null}, "y": {"datum": -70.196, "axis": null}, "y2": {"datum": -75.098}}},
    {"mark": {"type": "rect", "fill": "#2152d6"}, "encoding": {"x": {"datum": -84.19, "axis": null}, "x2": {"datum": 104}, "y": {"datum": -75.098, "axis": null}, "y2": {"datum": -76.3}}},

    {"mark": {"type": "text", "text": "Agilent Spectrum Analyzer - Swept SA", "font": "Liberation Sans", "fontWeight": "bold", "fontSize": 12.5, "color": "#f0f4ff"}, "encoding": {"x": {"datum": -81.75, "axis": null}, "y": {"datum": 68.824, "axis": null}}},
    {"mark": {"type": "text", "text": "LXI", "align": "center", "fontWeight": "bold", "fontStyle": "italic", "fontSize": 8, "color": "#000000"}, "encoding": {"x": {"datum": -82.03, "axis": null}, "y": {"datum": 64.706, "axis": null}}},
    {"mark": {"type": "text", "text": "R L", "fontSize": 10.5, "color": "#6c6c6c"}, "encoding": {"x": {"datum": -77.06, "axis": null}, "y": {"datum": 64.706, "axis": null}}},
    {"mark": {"type": "text", "text": "RF", "align": "center", "fontSize": 10.5, "color": "#8a8a8a"}, "encoding": {"x": {"datum": -60.19, "axis": null}, "y": {"datum": 64.706, "axis": null}}},
    {"mark": {"type": "text", "text": "50 Ω", "align": "center", "fontSize": 10.5, "color": "#8a8a8a"}, "encoding": {"x": {"datum": -48.75, "axis": null}, "y": {"datum": 64.706, "axis": null}}},
    {"mark": {"type": "text", "text": "AC", "align": "center", "fontSize": 10.5, "color": "#8a8a8a"}, "encoding": {"x": {"datum": -40.875, "axis": null}, "y": {"datum": 64.706, "axis": null}}},
    {"mark": {"type": "text", "text": "SENSE:INT", "align": "center", "fontSize": 10.5, "color": "#8a8a8a"}, "encoding": {"x": {"datum": 2.06, "axis": null}, "y": {"datum": 64.706, "axis": null}}},
    {"mark": {"type": "text", "text": "ALIGN AUTO", "align": "center", "fontSize": 10.5, "color": "#8a8a8a"}, "encoding": {"x": {"datum": 36.75, "axis": null}, "y": {"datum": 64.706, "axis": null}}},
    {"mark": {"type": "text", "text": "05:14:34 PM Apr 06, 2017", "align": "center", "fontSize": 10.5, "color": "#333333"}, "encoding": {"x": {"datum": 61.875, "axis": null}, "y": {"datum": 64.706, "axis": null}}},

    {"mark": {"type": "text", "text": "Center Freq\u00a0\u00a0429.950000 MHz", "fontWeight": "bold", "fontSize": 17.5, "color": "#ffffff"}, "encoding": {"x": {"datum": -81.94, "axis": null}, "y": {"datum": 60.588, "axis": null}}},
    {"mark": {"type": "text", "text": "PASS", "fontSize": 19.5, "color": "#3ad03a"}, "encoding": {"x": {"datum": -81.94, "axis": null}, "y": {"datum": 55.098, "axis": null}}},
    {"mark": {"type": "text", "text": "PNO: Far", "align": "center", "fontWeight": "bold", "fontSize": 11.2, "color": "#151515"}, "encoding": {"x": {"datum": -26.625, "axis": null}, "y": {"datum": 56.863, "axis": null}}},
    {"mark": {"type": "text", "text": "↔", "align": "center", "fontWeight": "bold", "fontSize": 13, "color": "#151515"}, "encoding": {"x": {"datum": -17.25, "axis": null}, "y": {"datum": 56.863, "axis": null}}},
    {"mark": {"type": "text", "text": "IFGain:Low", "align": "center", "fontWeight": "bold", "fontSize": 11.2, "color": "#151515"}, "encoding": {"x": {"datum": -26.625, "axis": null}, "y": {"datum": 53.725, "axis": null}}},
    {"mark": {"type": "text", "text": "Trig: Free Run", "fontWeight": "bold", "fontSize": 12.3, "color": "#151515"}, "encoding": {"x": {"datum": -12, "axis": null}, "y": {"datum": 57.647, "axis": null}}},
    {"mark": {"type": "text", "text": "#Atten: 20 dB", "fontWeight": "bold", "fontSize": 12.3, "color": "#151515"}, "encoding": {"x": {"datum": -12, "axis": null}, "y": {"datum": 54.314, "axis": null}}},
    {"mark": {"type": "text", "text": "Avg Type: Log-Pwr", "fontWeight": "bold", "fontSize": 12.4, "color": "#151515"}, "encoding": {"x": {"datum": 17.81, "axis": null}, "y": {"datum": 60.784, "axis": null}}},
    {"mark": {"type": "text", "text": "Avg|Hold: 1/1", "fontWeight": "bold", "fontSize": 12.4, "color": "#151515"}, "encoding": {"x": {"datum": 17.25, "axis": null}, "y": {"datum": 57.843, "axis": null}}},
    {"mark": {"type": "text", "text": "TRACE", "align": "right", "fontSize": 9.5, "color": "#404040"}, "encoding": {"x": {"datum": 61.31, "axis": null}, "y": {"datum": 60.98, "axis": null}}},
    {"mark": {"type": "text", "text": "TYPE", "align": "right", "fontSize": 9.5, "color": "#404040"}, "encoding": {"x": {"datum": 61.31, "axis": null}, "y": {"datum": 58.235, "axis": null}}},
    {"mark": {"type": "text", "text": "DET", "align": "right", "fontSize": 9.5, "color": "#404040"}, "encoding": {"x": {"datum": 61.31, "axis": null}, "y": {"datum": 55.294, "axis": null}}},
    {"mark": {"type": "text", "text": "1", "align": "center", "fontWeight": "bold", "fontSize": 12, "color": "#e6de30"}, "encoding": {"x": {"datum": 63, "axis": null}, "y": {"datum": 60.784, "axis": null}}},
    {"mark": {"type": "text", "text": "2", "align": "center", "fontSize": 12, "color": "#30c8c0"}, "encoding": {"x": {"datum": 65.34, "axis": null}, "y": {"datum": 60.784, "axis": null}}},
    {"mark": {"type": "text", "text": "3", "align": "center", "fontSize": 12, "color": "#d8208a"}, "encoding": {"x": {"datum": 67.69, "axis": null}, "y": {"datum": 60.784, "axis": null}}},
    {"mark": {"type": "text", "text": "4", "align": "center", "fontSize": 12, "color": "#30c850"}, "encoding": {"x": {"datum": 70.03, "axis": null}, "y": {"datum": 60.784, "axis": null}}},
    {"mark": {"type": "text", "text": "5", "align": "center", "fontSize": 12, "color": "#e02828"}, "encoding": {"x": {"datum": 72.375, "axis": null}, "y": {"datum": 60.784, "axis": null}}},
    {"mark": {"type": "text", "text": "6", "align": "center", "fontSize": 12, "color": "#3434d8"}, "encoding": {"x": {"datum": 74.72, "axis": null}, "y": {"datum": 60.784, "axis": null}}},
    {"mark": {"type": "text", "text": "M", "align": "center", "fontSize": 11, "color": "#56665a"}, "encoding": {"x": {"datum": 63, "axis": null}, "y": {"datum": 58.235, "axis": null}}},
    {"mark": {"type": "text", "text": "M", "align": "center", "fontSize": 11, "color": "#e8e8e8"}, "encoding": {"x": {"datum": 65.34, "axis": null}, "y": {"datum": 58.235, "axis": null}}},
    {"mark": {"type": "text", "text": "W", "align": "center", "fontSize": 11, "color": "#8a8a8a"}, "encoding": {"x": {"datum": 67.69, "axis": null}, "y": {"datum": 58.235, "axis": null}}},
    {"mark": {"type": "text", "text": "W", "align": "center", "fontSize": 11, "color": "#8a8a8a"}, "encoding": {"x": {"datum": 70.03, "axis": null}, "y": {"datum": 58.235, "axis": null}}},
    {"mark": {"type": "text", "text": "W", "align": "center", "fontSize": 11, "color": "#8a8a8a"}, "encoding": {"x": {"datum": 72.375, "axis": null}, "y": {"datum": 58.235, "axis": null}}},
    {"mark": {"type": "text", "text": "W", "align": "center", "fontSize": 11, "color": "#8a8a8a"}, "encoding": {"x": {"datum": 74.72, "axis": null}, "y": {"datum": 58.235, "axis": null}}},
    {"mark": {"type": "text", "text": "P", "align": "center", "fontSize": 12, "color": "#eeeeee"}, "encoding": {"x": {"datum": 63, "axis": null}, "y": {"datum": 55.196, "axis": null}}},
    {"mark": {"type": "text", "text": "P", "align": "center", "fontSize": 12, "color": "#eeeeee"}, "encoding": {"x": {"datum": 65.34, "axis": null}, "y": {"datum": 55.196, "axis": null}}},
    {"mark": {"type": "text", "text": "P", "align": "center", "fontSize": 12, "color": "#eeeeee"}, "encoding": {"x": {"datum": 67.69, "axis": null}, "y": {"datum": 55.196, "axis": null}}},
    {"mark": {"type": "text", "text": "P", "align": "center", "fontSize": 12, "color": "#eeeeee"}, "encoding": {"x": {"datum": 70.03, "axis": null}, "y": {"datum": 55.196, "axis": null}}},
    {"mark": {"type": "text", "text": "P", "align": "center", "fontSize": 12, "color": "#eeeeee"}, "encoding": {"x": {"datum": 72.375, "axis": null}, "y": {"datum": 55.196, "axis": null}}},
    {"mark": {"type": "text", "text": "P", "align": "center", "fontSize": 12, "color": "#eeeeee"}, "encoding": {"x": {"datum": 74.72, "axis": null}, "y": {"datum": 55.196, "axis": null}}},

    {"mark": {"type": "text", "text": "Ref Offset 30.6 dB", "fontSize": 14.5, "color": "#ffffff"}, "encoding": {"x": {"datum": -63.5625, "axis": null}, "y": {"datum": 46.569, "axis": null}}},
    {"mark": {"type": "text", "text": "Ref 40.00 dBm", "fontWeight": "bold", "fontSize": 15.8, "color": "#ffffff"}, "encoding": {"x": {"datum": -63.5625, "axis": null}, "y": {"datum": 43.137, "axis": null}}},
    {"mark": {"type": "text", "text": "10 dB/div", "fontSize": 14.5, "color": "#a8a8a8"}, "encoding": {"x": {"datum": -81.75, "axis": null}, "y": {"datum": 42.745, "axis": null}}},
    {"mark": {"type": "text", "text": "Log", "fontSize": 14.5, "color": "#a8a8a8"}, "encoding": {"x": {"datum": -81.75, "axis": null}, "y": {"datum": 40.1, "axis": null}}},
    {"mark": {"type": "text", "text": "Trace 1 Pass", "fontSize": 17, "color": "#2ed82e"}, "encoding": {"x": {"datum": -73.31, "axis": null}, "y": {"datum": 37.353, "axis": null}}},
    {"mark": {"type": "text", "text": "Mkr1 429.950 00 MHz", "align": "right", "fontWeight": "bold", "fontSize": 19, "color": "#2ee02e"}, "encoding": {"x": {"datum": 74.8125, "axis": null}, "y": {"datum": 48.824, "axis": null}}},
    {"mark": {"type": "text", "text": "29.758 dBm", "align": "right", "fontWeight": "bold", "fontSize": 19, "color": "#2ee02e"}, "encoding": {"x": {"datum": 74.8125, "axis": null}, "y": {"datum": 44.118, "axis": null}}},

    {"mark": {"type": "text", "text": "Center 429.95000 MHz", "fontWeight": "bold", "fontSize": 15.6, "color": "#ffffff"}, "encoding": {"x": {"datum": -81.94, "axis": null}, "y": {"datum": -62.647, "axis": null}}},
    {"mark": {"type": "text", "text": "#Res BW 300 Hz", "fontWeight": "bold", "fontSize": 15.6, "color": "#ffffff"}, "encoding": {"x": {"datum": -81.94, "axis": null}, "y": {"datum": -66.863, "axis": null}}},
    {"mark": {"type": "text", "text": "#VBW 3.0 kHz", "fontWeight": "bold", "fontSize": 15.6, "color": "#ffffff"}, "encoding": {"x": {"datum": -25.125, "axis": null}, "y": {"datum": -66.863, "axis": null}}},
    {"mark": {"type": "text", "text": "Span 150.0 kHz", "align": "right", "fontWeight": "bold", "fontSize": 15.6, "color": "#ffffff"}, "encoding": {"x": {"datum": 74.8125, "axis": null}, "y": {"datum": -62.647, "axis": null}}},
    {"mark": {"type": "text", "text": "#Sweep (#Swp)\u00a0\u00a075.0 s (1001 pts)", "align": "right", "fontWeight": "bold", "fontSize": 15.6, "color": "#ffffff"}, "encoding": {"x": {"datum": 75.19, "axis": null}, "y": {"datum": -66.863, "axis": null}}},

    {"mark": {"type": "text", "text": "Frequency", "align": "center", "fontWeight": "bold", "fontSize": 13.8, "color": "#ffffff"}, "encoding": {"x": {"datum": 90.75, "axis": null}, "y": {"datum": 61.765, "axis": null}}},
    {"mark": {"type": "text", "text": "Auto Tune", "align": "right", "fontWeight": "bold", "fontSize": 15.5, "color": "#18202e"}, "encoding": {"x": {"datum": 104.25, "axis": null}, "y": {"datum": 50.196, "axis": null}}},
    {"mark": {"type": "text", "text": "Center Freq", "align": "right", "fontWeight": "bold", "fontSize": 15.5, "color": "#18202e"}, "encoding": {"x": {"datum": 104.25, "axis": null}, "y": {"datum": 34.51, "axis": null}}},
    {"mark": {"type": "text", "text": "429.950000 MHz", "align": "right", "fontSize": 13.8, "color": "#18202e"}, "encoding": {"x": {"datum": 104.25, "axis": null}, "y": {"datum": 29.412, "axis": null}}},
    {"mark": {"type": "text", "text": "Start Freq", "align": "right", "fontWeight": "bold", "fontSize": 15.5, "color": "#18202e"}, "encoding": {"x": {"datum": 104.25, "axis": null}, "y": {"datum": 16.078, "axis": null}}},
    {"mark": {"type": "text", "text": "429.875000 MHz", "align": "right", "fontSize": 13.8, "color": "#18202e"}, "encoding": {"x": {"datum": 104.25, "axis": null}, "y": {"datum": 10.98, "axis": null}}},
    {"mark": {"type": "text", "text": "Stop Freq", "align": "right", "fontWeight": "bold", "fontSize": 15.5, "color": "#18202e"}, "encoding": {"x": {"datum": 104.25, "axis": null}, "y": {"datum": -2.353, "axis": null}}},
    {"mark": {"type": "text", "text": "430.025000 MHz", "align": "right", "fontSize": 13.8, "color": "#18202e"}, "encoding": {"x": {"datum": 104.25, "axis": null}, "y": {"datum": -7.451, "axis": null}}},
    {"mark": {"type": "text", "text": "CF Step", "align": "right", "fontWeight": "bold", "fontSize": 15.5, "color": "#18202e"}, "encoding": {"x": {"datum": 104.25, "axis": null}, "y": {"datum": -19.216, "axis": null}}},
    {"mark": {"type": "text", "text": "15.000 kHz", "align": "right", "fontSize": 13.8, "color": "#18202e"}, "encoding": {"x": {"datum": 104.25, "axis": null}, "y": {"datum": -22.941, "axis": null}}},
    {"mark": {"type": "text", "text": "Auto", "fontSize": 13.8, "color": "#18202e"}, "encoding": {"x": {"datum": 77.44, "axis": null}, "y": {"datum": -27.255, "axis": null}}},
    {"mark": {"type": "rule", "color": "#18202e", "strokeWidth": 1.2}, "encoding": {"x": {"datum": 77.44, "axis": null}, "x2": {"datum": 83.81}, "y": {"datum": -28.725, "axis": null}}},
    {"mark": {"type": "text", "text": "Man", "align": "right", "fontSize": 13.8, "color": "#18202e"}, "encoding": {"x": {"datum": 104.25, "axis": null}, "y": {"datum": -27.255, "axis": null}}},
    {"mark": {"type": "text", "text": "Freq Offset", "align": "right", "fontWeight": "bold", "fontSize": 15.5, "color": "#18202e"}, "encoding": {"x": {"datum": 104.25, "axis": null}, "y": {"datum": -38.824, "axis": null}}},
    {"mark": {"type": "text", "text": "0 Hz", "align": "right", "fontSize": 13.8, "color": "#18202e"}, "encoding": {"x": {"datum": 104.25, "axis": null}, "y": {"datum": -43.725, "axis": null}}},

    {"mark": {"type": "text", "text": "MSG", "fontSize": 9.5, "color": "#505050"}, "encoding": {"x": {"datum": -82.3125, "axis": null}, "y": {"datum": -72.745, "axis": null}}},
    {"mark": {"type": "text", "text": "STATUS", "align": "center", "fontSize": 9.5, "color": "#505050"}, "encoding": {"x": {"datum": 40.875, "axis": null}, "y": {"datum": -72.745, "axis": null}}}
  ]
}
